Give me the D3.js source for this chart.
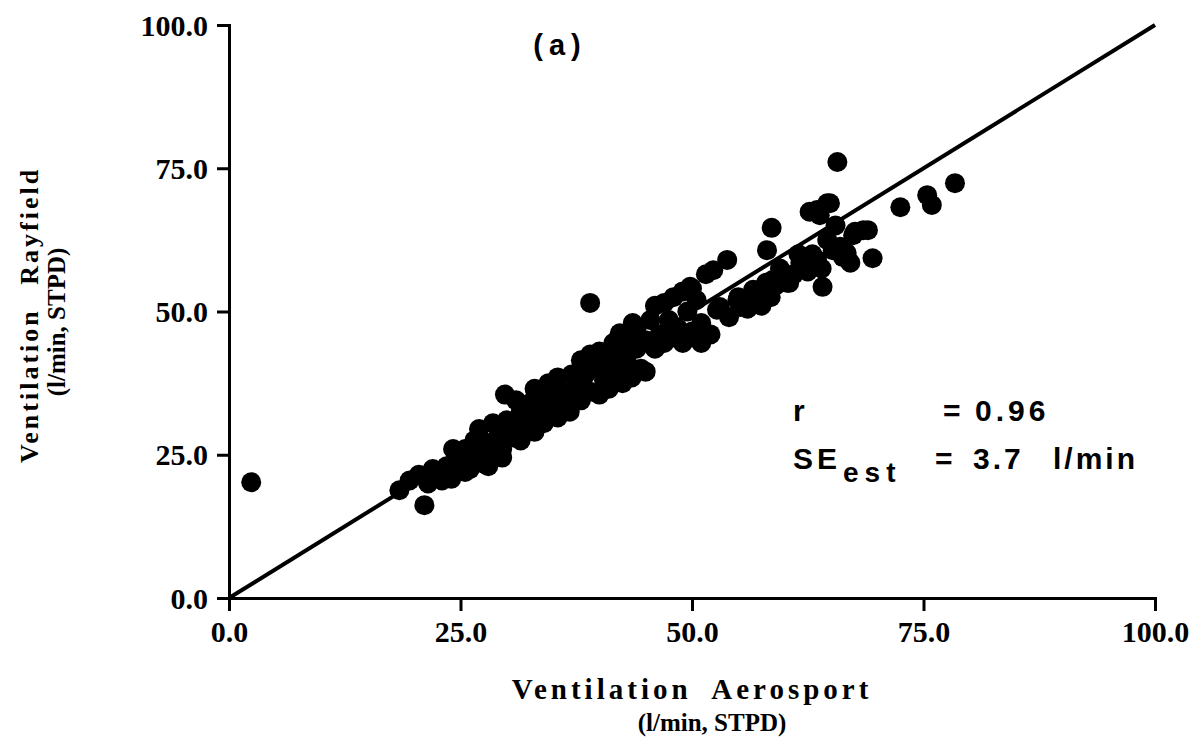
<!DOCTYPE html>
<html><head><meta charset="utf-8">
<script src="https://cdn.jsdelivr.net/npm/d3@7"></script>
<style>
body{margin:0;background:#fff;}
svg{display:block;}
</style></head>
<body><svg id="chart" width="1199" height="745"></svg>
<script>
// Data: Ventilation Aerosport (x) vs Ventilation Rayfield (y), l/min STPD
const xTicks = [0, 25, 50, 75, 100];
const yTicks = [0, 25, 50, 75, 100];
const identityLine = [[0, 0], [100, 100]];
const aerosport = [
 2.4,18.4,21.1,19.5,20.5,21.5,22,22.5,23,23.5,24,24.5,24,25,25.5,24.2,
 25.5,26,26.5,27,27,27.5,28,28.5,28.5,29,29.5,29.5,30,30,26,28,29.8,31,
 30.5,31,31.5,31.5,32,32.5,32.5,33,33,33.5,34,34,34.5,35,35,35.5,35.5,36,36.5,37,37,36.8,
 37.5,38,38,38.5,39,39,39.5,40,40,40.5,41,41,41.5,42,42,42.5,43,43,43.5,44,44,44.5,45,45,39,43.6,42.2,
 45.5,46,46,46.5,47,47,47.5,48,48,48.5,49,49,49.5,50,50,50.5,51,51,51.5,52,49.8,52.3,53.8,
 54.9,53,56.6,57.3,58.7,55.2,52.7,54,55,56,57,57.5,58,58.5,59,60,59.5,60.5,
 61.7,64.1,60.3,65.2,63.5,64.6,62.7,64.9,63.8,65.7,64.6,66,62,63.5,66.3,67.1,69.5,66.7,67.6,69,68.5,67.4,58.6,58.1,72.5,75.4,75.9,78.4,
 61,62.5,63,64,65.5,61.5
];
const rayfield = [
 20.2,18.8,16.2,20.5,21.5,20,22.5,21,20.5,23,22,24.5,20.8,23,22,26,
 26,24,27.5,25,29.5,23.5,27,30.5,25,28,26,24.5,31,29,22.5,23,35.5,34.5,
 28,30,32.5,27.5,29.5,34,31,36.5,29,33,30.5,35,37.5,32,34.5,38.5,31.5,36,33,39,35.5,32.5,
 37,41.5,34.5,39,36,42.5,40,35.5,43,38,41,36.5,44.5,39,42.5,37.5,45,41,38.5,43.5,47,40,45,39.5,51.5,48,46.2,
 48.5,51,43.5,46,51.5,44.5,48.5,52.5,45.5,47,53.5,44.5,50,54,46.5,52,44.5,48,56.5,46,54.3,57.2,59,
 52,50.8,53.8,53.8,55.5,50.8,50.3,49,52.5,50.5,53,51,55,52.5,54.5,56,57.5,55,
 58.5,54.3,55,60.7,67.7,68.9,67.4,68.9,66.8,76.1,62.5,61.3,59.5,59,59.5,58.5,59.3,60.2,63.9,64.2,64.2,63.3,64.6,60.7,68.2,70.3,68.6,72.4,
 56.5,57,60,57.5,65,60
];
const xTitle = ["Ventilation Aerosport", "(l/min, STPD)"];
const yTitle = ["Ventilation Rayfield", "(l/min, STPD)"];
const panelLabel = "(a)";

const svg = d3.select("#chart");
const x = d3.scaleLinear().domain([0, 100]).range([229, 1155]);
const y = d3.scaleLinear().domain([0, 100]).range([598, 25]);
const serif = "'Liberation Serif','Times New Roman',serif";
const sans = "'Liberation Sans',Arial,Helvetica,sans-serif";

// Points
svg.append("g").selectAll("circle").data(aerosport.map((v, i) => [v, rayfield[i]]))
  .join("circle")
  .attr("cx", d => x(d[0])).attr("cy", d => y(d[1])).attr("r", 10)
  .attr("fill", "#000");

// Identity line
svg.append("path").datum(identityLine)
  .attr("d", d3.line().x(d => x(d[0])).y(d => y(d[1])))
  .attr("stroke", "#000").attr("stroke-width", 4).attr("fill", "none");

// Axes
const fmt = d3.format(".1f");
const gx = svg.append("g").attr("transform", `translate(0,${y(0)})`)
  .call(d3.axisBottom(x).tickValues(xTicks).tickFormat(fmt).tickSize(13).tickPadding(10));
const gy = svg.append("g").attr("transform", `translate(${x(0)},0)`)
  .call(d3.axisLeft(y).tickValues(yTicks).tickFormat(fmt).tickSize(12).tickPadding(9));
[gx, gy].forEach(g => {
  g.select(".domain").attr("stroke", "#000").attr("stroke-width", 3);
  g.selectAll(".tick line").attr("stroke", "#000").attr("stroke-width", 3);
  g.selectAll("text").attr("fill", "#000").style("font-family", serif)
    .style("font-weight", "bold").style("font-size", "30px");
});
gy.selectAll(".tick text").attr("dy", "0.34em");

// Axis titles
const titleStyle = sel => sel.style("font-family", serif).style("font-weight", "bold");
titleStyle(svg.append("text").attr("x", 692).attr("y", 699).attr("text-anchor", "middle"))
  .style("font-size", "29px").style("letter-spacing", "4px").style("word-spacing", "10px")
  .text(xTitle[0]);
titleStyle(svg.append("text").attr("x", 712).attr("y", 731).attr("text-anchor", "middle"))
  .style("font-size", "25px").text(xTitle[1]);
titleStyle(svg.append("text").attr("transform", "translate(38,315) rotate(-90)").attr("text-anchor", "middle"))
  .style("font-size", "26px").style("letter-spacing", "3px").style("word-spacing", "14px")
  .text(yTitle[0]);
titleStyle(svg.append("text").attr("transform", "translate(65,322) rotate(-90)").attr("text-anchor", "middle"))
  .style("font-size", "25px").text(yTitle[1]);

// Panel label
svg.append("text").attr("x", 560).attr("y", 55).attr("text-anchor", "middle")
  .style("font-family", sans).style("font-weight", "bold").style("font-size", "29px")
  .style("letter-spacing", "6px").text(panelLabel);

// Stats annotation
const ann = svg.append("g").style("font-family", sans).style("font-weight", "bold")
  .style("font-size", "30px").attr("fill", "#000");
ann.append("text").attr("x", 793).attr("y", 421).text("r");
ann.append("text").attr("x", 943).attr("y", 421).text("=");
ann.append("text").attr("x", 975).attr("y", 421).style("letter-spacing", "4px").text("0.96");
ann.append("text").attr("x", 793).attr("y", 469).style("letter-spacing", "4px").text("SE");
ann.append("text").attr("x", 843).attr("y", 482).style("font-size", "28px").style("letter-spacing", "6px").text("est");
ann.append("text").attr("x", 935).attr("y", 469).text("=");
ann.append("text").attr("x", 973).attr("y", 469).style("letter-spacing", "3px").text("3.7");
ann.append("text").attr("x", 1053).attr("y", 469).style("letter-spacing", "3px").text("l/min");
</script></body></html>
